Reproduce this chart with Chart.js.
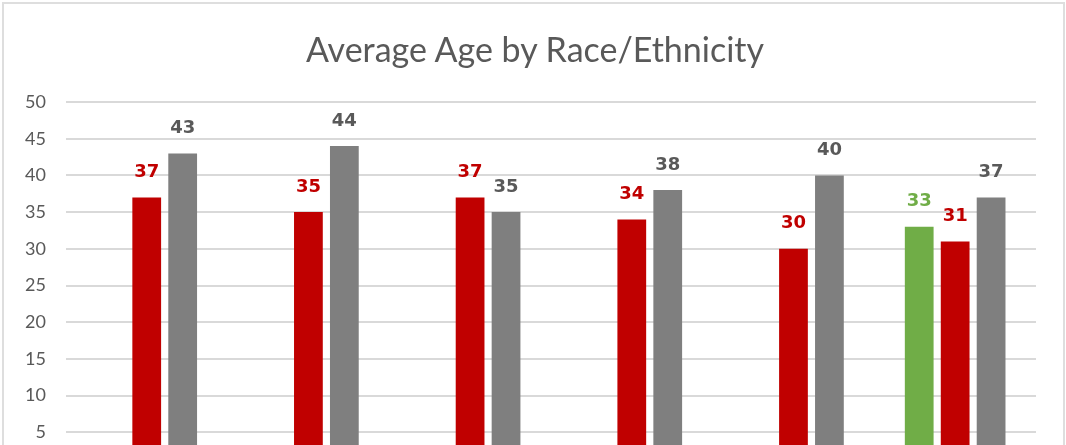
<!DOCTYPE html>
<html>
<head>
<meta charset="utf-8">
<script src="https://cdn.jsdelivr.net/npm/chart.js@4/dist/chart.umd.min.js"></script>
<style>
  html, body { margin: 0; padding: 0; background: #fff; overflow: hidden; }
  body { width: 1066px; height: 445px; position: relative; }
  .frame {
    position: absolute; left: 2px; top: 2px; width: 1063px; height: 520px;
    border: 2px solid #dedede; box-sizing: border-box;
  }
  .wrap { position: absolute; left: 0; top: 0; width: 1066px; height: 520px; }
  .title {
    position: absolute; left: 0; top: 28px; width: 1070px;
    text-align: center; font: 34px/41px Lato, sans-serif; color: #595959;
  }
</style>
</head>
<body>
<div class="frame"></div>
<div class="wrap"><canvas id="chart" width="1066" height="520"></canvas></div>
<div class="title">Average Age by Race/Ethnicity</div>
<script>
// categories along the bottom (axis sits below the visible area)
const groups = ['Group 1', 'Group 2', 'Group 3', 'Group 4', 'Group 5', 'Group 6'];

// average ages per series
const greenAges = [null, null, null, null, null, 33];
const redAges = [37, 35, 37, 34, 30, 31];
const grayAges = [43, 44, 35, 38, 40, 37];

const yTicks = [0, 5, 10, 15, 20, 25, 30, 35, 40, 45, 50];

// value labels above each bar, coloured per series
const barLabels = {
  id: 'barLabels',
  afterDatasetsDraw(chart) {
    const ctx = chart.ctx;
    ctx.save();
    ctx.font = 'bold 18px "DejaVu Sans"';
    ctx.textAlign = 'center';
    ctx.textBaseline = 'bottom';
    chart.data.datasets.forEach((ds, i) => {
      const meta = chart.getDatasetMeta(i);
      ctx.fillStyle = ds.labelColor;
      meta.data.forEach((bar, j) => {
        const v = ds.data[j];
        if (v == null) return;
        ctx.fillText(String(v), bar.x, bar.y - 16);
      });
    });
    ctx.restore();
  }
};

new Chart(document.getElementById('chart'), {
  type: 'bar',
  data: {
    labels: groups,
    datasets: [
      { label: 'Series 1', data: greenAges, backgroundColor: '#70ad47', labelColor: '#70ad47' },
      { label: 'Series 2', data: redAges, backgroundColor: '#c00000', labelColor: '#c00000' },
      { label: 'Series 3', data: grayAges, backgroundColor: '#7f7f7f', labelColor: '#595959' },
    ],
  },
  options: {
    responsive: false,
    animation: false,
    // room for the title block above the plot
    layout: { padding: { top: 102, left: 5, right: 30, bottom: 51 } },
    datasets: { bar: { categoryPercentage: 0.667, barPercentage: 0.8 } },
    plugins: {
      legend: { display: false },
      tooltip: { enabled: false },
      title: { display: false },
    },
    scales: {
      x: { display: false },
      y: {
        min: 0,
        max: 50,
        afterBuildTicks(axis) { axis.ticks = yTicks.map(v => ({ value: v })); },
        border: { display: false },
        grid: { color: '#d9d9d9', lineWidth: 2, drawTicks: false },
        ticks: {
          color: '#595959',
          padding: 20,
          font: { family: 'Lato', size: 18 },
        },
      },
    },
  },
  plugins: [barLabels],
});
</script>
</body>
</html>
